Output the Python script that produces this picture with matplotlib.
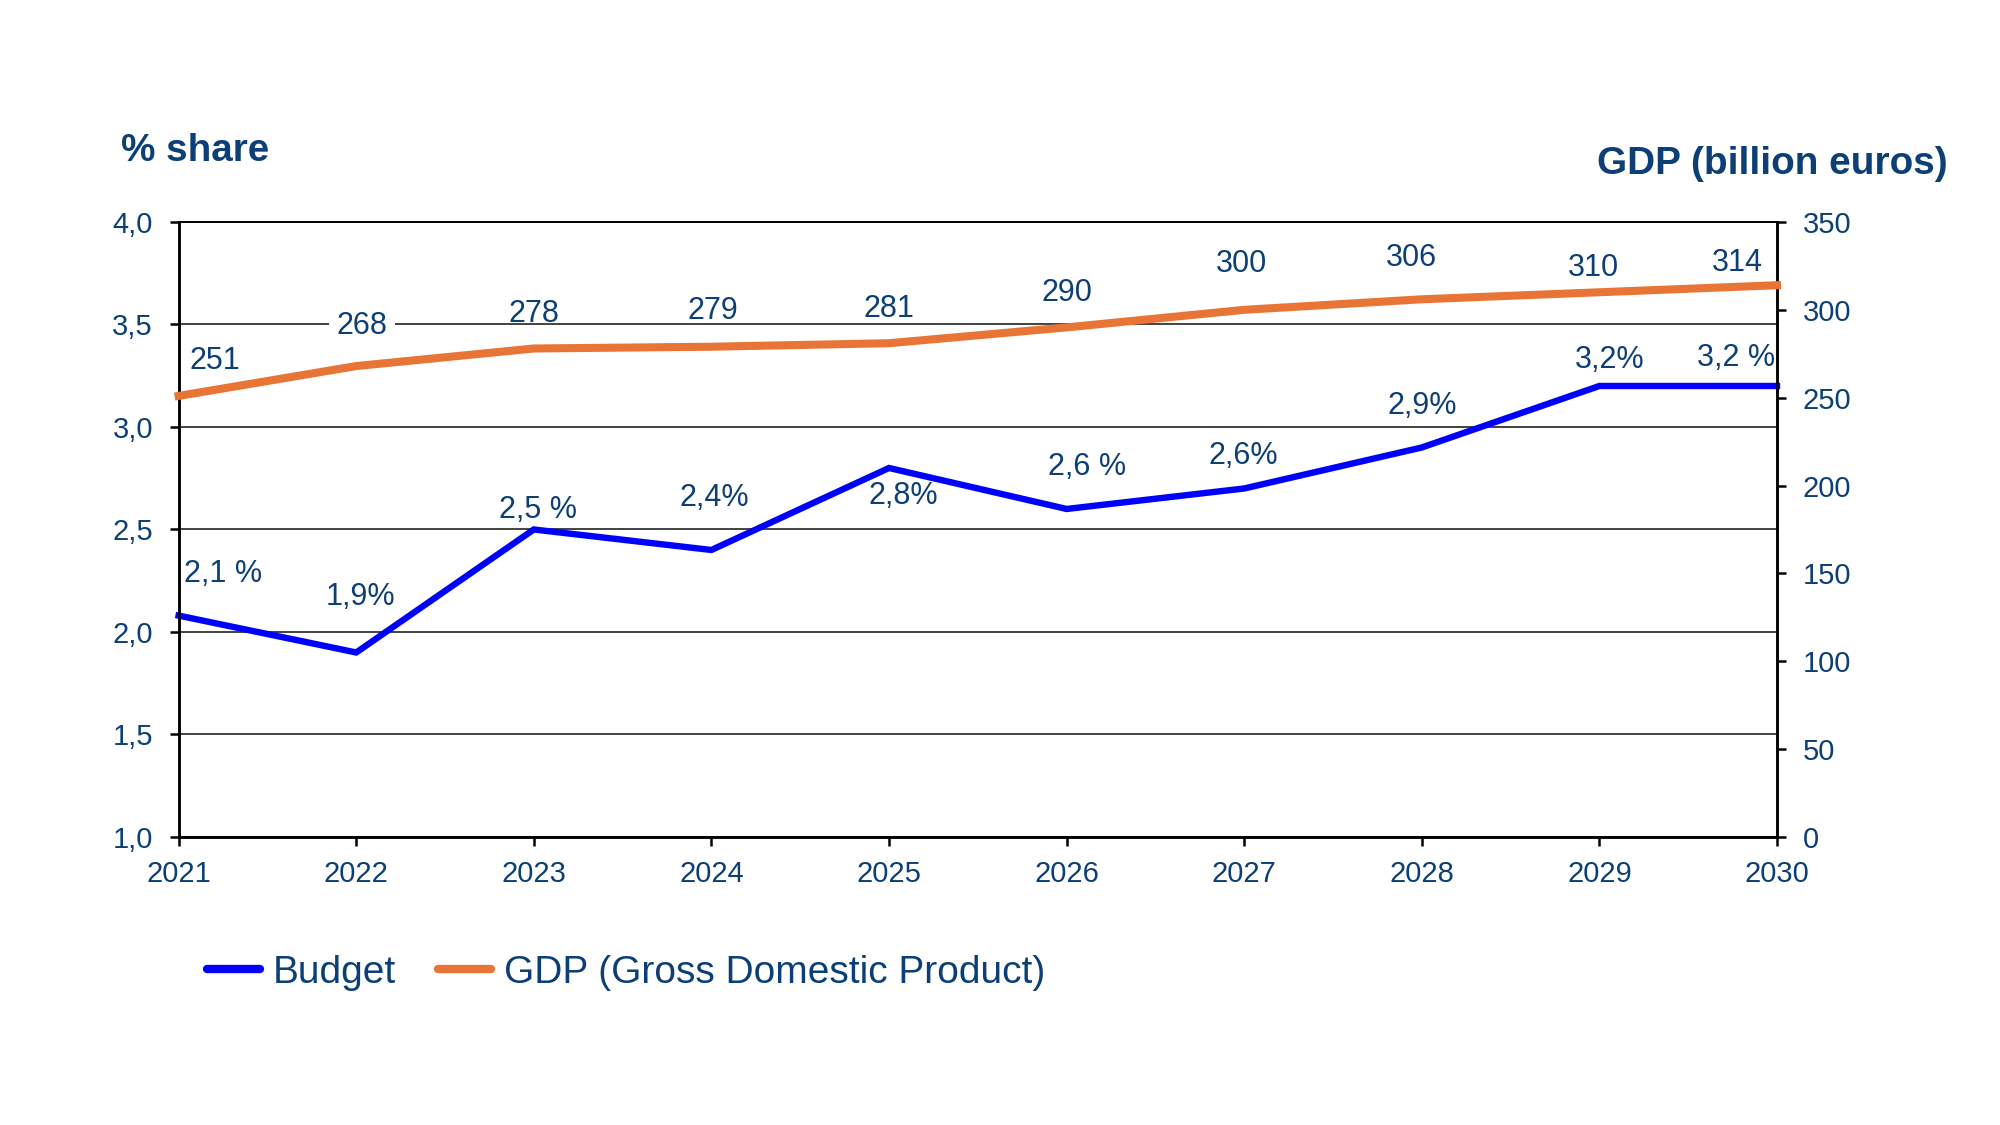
import matplotlib
matplotlib.use("Agg")
import matplotlib.pyplot as plt
from matplotlib.lines import Line2D

plt.rcParams['font.family'] = ['Liberation Sans', 'DejaVu Sans']

years = [2021, 2022, 2023, 2024, 2025, 2026, 2027, 2028, 2029, 2030]
budget = [2.08, 1.9, 2.5, 2.4, 2.8, 2.6, 2.7, 2.9, 3.2, 3.2]
budget_labels = ["2,1 %", "1,9%", "2,5 %", "2,4%", "2,8%", "2,6 %", "2,6%", "2,9%", "3,2%", "3,2 %"]
gdp = [251, 268, 278, 279, 281, 290, 300, 306, 310, 314]
gdp_labels = ["251", "268", "278", "279", "281", "290", "300", "306", "310", "314"]
left_ticks = [1.0, 1.5, 2.0, 2.5, 3.0, 3.5, 4.0]
left_tick_labels = ["1,0", "1,5", "2,0", "2,5", "3,0", "3,5", "4,0"]
right_ticks = [0, 50, 100, 150, 200, 250, 300, 350]

# label offsets (pixels) - styling only
budget_off = [(44, 42), (4, 55), (4, 19), (3, 52), (14, -28), (20, 42), (-1, 32), (0, 41), (10, 26), (-41, 28)]
gdp_off = [(36, 35), (6, 40), (0, 34), (1, 36), (0, 34), (0, 34), (-3, 46), (-10, 41), (-6, 24), (-40, 22)]

TXT = '#0c3f75'
BLUE = '#0000ff'
ORANGE = '#e87436'

fig = plt.figure(figsize=(20, 11.25), dpi=100)
ax = fig.add_axes([0.0893, 0.256, 0.7992, 0.5467])
ax2 = ax.twinx()

ax.set_xlim(years[0], years[-1])
ax.set_ylim(1.0, 4.0)
ax2.set_ylim(0, 350)

ax.set_yticks(left_ticks)
ax.set_yticklabels(left_tick_labels)
ax.set_xticks(years)
ax.set_xticklabels([str(y) for y in years])
ax2.set_yticks(right_ticks)

ax.grid(axis='y', color='#222222', linewidth=1.2)
ax.set_axisbelow(True)

for a in (ax, ax2):
    for s in a.spines.values():
        s.set_color('black')
        s.set_linewidth(1.8)
    a.spines['top'].set_linewidth(1.2)

ax.tick_params(axis='both', direction='out', length=6.5, width=1.8, color='black',
               labelcolor=TXT, labelsize=21)
ax.tick_params(axis='y', pad=12)
ax.tick_params(axis='x', pad=10)
ax2.tick_params(axis='y', direction='out', length=6.5, width=1.8, color='black',
                labelcolor=TXT, labelsize=21, pad=12)

ax.plot(years, budget, color=BLUE, linewidth=4.6, solid_joinstyle='miter', zorder=5, clip_on=False)
ax2.plot(years, gdp, color=ORANGE, linewidth=5.8, zorder=5, clip_on=False)

for x, v, lab, (dx, dy) in zip(years, budget, budget_labels, budget_off):
    ax.annotate(lab, (x, v), xytext=(dx, dy), textcoords='offset pixels',
                ha='center', va='center', fontsize=22, color=TXT, zorder=10)
for i, (x, v, lab, (dx, dy)) in enumerate(zip(years, gdp, gdp_labels, gdp_off)):
    kw = {}
    if i == 1:
        kw['bbox'] = dict(boxstyle='square,pad=0.25', fc='white', ec='none')
    ax2.annotate(lab, (x, v), xytext=(dx, dy), textcoords='offset pixels',
                 ha='center', va='center', fontsize=22, color=TXT, zorder=10, **kw)

fig.text(0.0605, 0.8656, "% share", fontsize=27.8, fontweight='bold', color=TXT,
         ha='left', va='center')
fig.text(0.974, 0.8546, "GDP (billion euros)", fontsize=27.9, fontweight='bold', color=TXT,
         ha='right', va='center')

handles = [Line2D([], [], color=BLUE, linewidth=6, solid_capstyle='round'),
           Line2D([], [], color=ORANGE, linewidth=6, solid_capstyle='round')]
fig.legend(handles, ["Budget", "GDP (Gross Domestic Product)"], loc='center left',
           bbox_to_anchor=(0.1035, 0.1355), ncol=2, frameon=False, fontsize=28,
           handlelength=1.35, handletextpad=0.33, columnspacing=1.1,
           borderpad=0, borderaxespad=0, labelcolor=TXT)

fig.savefig("out.png", dpi=100, facecolor='white')
